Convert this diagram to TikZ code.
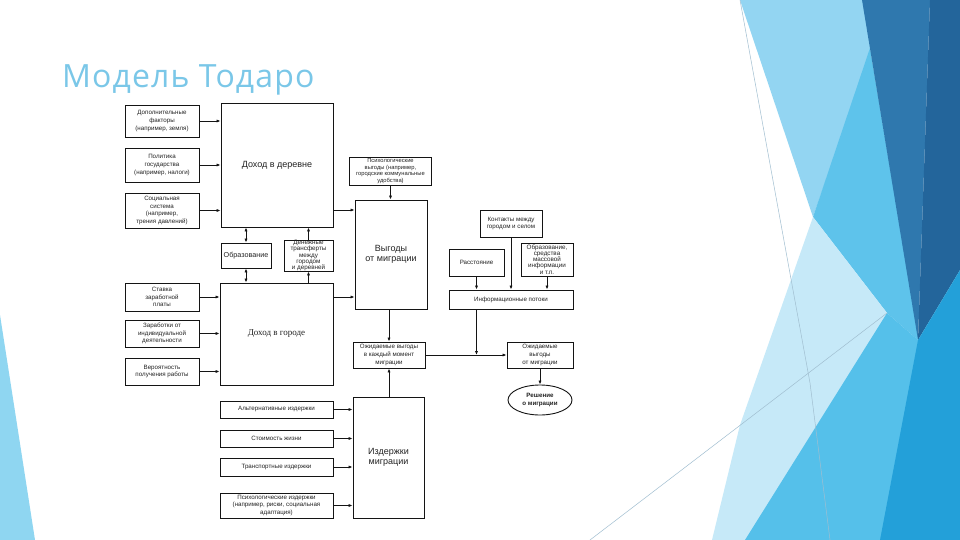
\documentclass[tikz,border=0pt]{standalone}
\usepackage{fontspec}
\setmainfont{Liberation Sans}
\newfontfamily\titlefont[LetterSpace=3.5]{Open Sans}
\newfontfamily\scanserif{Liberation Serif}
\usepackage{tikz}
\usetikzlibrary{
  arrows.meta,
  positioning,
  shapes.geometric
}
\definecolor{titlecolor}{RGB}{122, 199, 232}
\definecolor{ink}{RGB}{20, 20, 20}
\definecolor{inktext}{RGB}{35, 35, 35}
\definecolor{thinline}{RGB}{160, 190, 208}
\definecolor{lightsky}{RGB}{147, 213, 242}
\definecolor{midsky}{RGB}{94, 195, 235}
\definecolor{navy}{RGB}{47, 120, 174}
\definecolor{navydark}{RGB}{35, 101, 155}
\definecolor{palesky}{RGB}{198, 233, 248}
\definecolor{cyanblue}{RGB}{85, 192, 234}
\definecolor{deepcyan}{RGB}{35, 160, 217}
\definecolor{leftstrip}{RGB}{143, 214, 241}
\tikzset{
boxtext/.style={
  align=center,
  text=inktext,
  inner sep=0pt,
  font=\fontsize{6.2}{7.6}\selectfont
},
factorbox/.style={
  draw=ink,
  line width=0.9pt,
  boxtext
},
densebox/.style={
  factorbox,
  font=\fontsize{6.3}{6.1}\selectfont
},
bigbox/.style={
  draw=ink,
  line width=0.9pt,
  align=center,
  text=inktext,
  inner sep=0pt,
  font=\fontsize{9}{10.5}\selectfont
},
decisionnode/.style={
  ellipse,
  factorbox,
  font=\bfseries\fontsize{6.2}{7.2}\selectfont
},
titlelabel/.style={
  font=\titlefont\fontsize{32}{36}\selectfont,
  text=titlecolor,
  inner sep=0pt
},
arrow/.style={
  -{Latex[length=4pt,width=3.2pt]},
  line width=0.8pt,
  draw=ink
},
twoarrow/.style={
  arrow,
  {Latex[length=4pt,width=3.2pt]}-{Latex[length=4pt,width=3.2pt]}
}
}

\begin{document}
\begin{tikzpicture}[x=1pt,y=-1pt]
\useasboundingbox (0,0) rectangle (960,540);
\fill[white] (0,0) rectangle (960,540);

% slide background
\fill[leftstrip] (0,315) -- (35,540) -- (0,540) -- cycle;
\fill[lightsky] (740,0) -- (863,0) -- (871,50) -- (813,217) -- cycle;
\fill[midsky] (870,48) -- (919,341) -- (887,313) -- (813,217) -- cycle;
\fill[navy] (862,0) -- (930,0) -- (918,340) -- cycle;
\fill[navydark] (930,0) -- (960,0) -- (960,270) -- (918,340) -- cycle;
\fill[palesky] (813,217) -- (887,313) -- (850,540) -- (712,540) -- (740,425) -- cycle;
\fill[cyanblue] (745,540) -- (887,313) -- (918,340) -- (905,540) -- cycle;
\fill[deepcyan] (918,340) -- (960,270) -- (960,540) -- (880,540) -- cycle;
\draw[thinline, line width=0.5pt] (740,0) -- (810,383) -- (830,540);
\draw[thinline, line width=0.5pt] (590,540) -- (887,313);

\node[titlelabel, anchor=base west] (title) at (62,88) {Модель Тодаро};

% factors of income
\node[factorbox, minimum width=74pt, minimum height=32pt] (extra) at (162,121)
  {Дополнительные\\факторы\\(например, земля)};
\node[factorbox, minimum width=74pt, minimum height=34pt] (policy) at (162,165)
  {Политика\\государства\\(например, налоги)};
\node[factorbox, minimum width=74pt, minimum height=35pt] (social) at (162,210.5)
  {Социальная\\система\\(например,\\трения давлений)};
\node[factorbox, minimum width=74pt, minimum height=28pt] (wage) at (162,297)
  {Ставка\\заработной\\платы};
\node[factorbox, minimum width=74pt, minimum height=27pt] (selfwork) at (162,333.5)
  {Заработки от\\индивидуальной\\деятельности};
\node[factorbox, minimum width=74pt, minimum height=27pt] (jobprob) at (162,371.5)
  {Вероятность\\получения работы};

% incomes
\node[bigbox, minimum width=112pt, minimum height=124pt] (village) at (277,165) {Доход в деревне};
\node[bigbox, minimum width=113pt, minimum height=102pt, font=\scanserif\fontsize{9}{10.5}\selectfont] (city) at (276.5,334) {Доход в городе};
\node[factorbox, minimum width=50pt, minimum height=25pt, font=\fontsize{7.2}{8}\selectfont] (educ) at (246,255.5) {Образование};
\node[densebox, minimum width=49pt, minimum height=31pt] (remit) at (308.5,255.5)
  {Денежные\\трансферты\\между\\городом\\и деревней};

% gains
\node[factorbox, minimum width=82pt, minimum height=28pt, font=\fontsize{5.8}{6.6}\selectfont] (psygain) at (390.5,171)
  {Психологические\\выгоды (например,\\городские коммунальные\\удобства)};
\node[bigbox, minimum width=72pt, minimum height=109pt] (gain) at (391,254.5) {Выгоды\\от миграции};
\node[factorbox, minimum width=72pt, minimum height=26pt] (gainnow) at (389,355)
  {Ожидаемые выгоды\\в каждый момент\\миграции};

% costs
\node[bigbox, minimum width=71pt, minimum height=121pt] (cost) at (388.5,457.5) {Издержки\\миграции};
\node[factorbox, minimum width=113pt, minimum height=17pt] (altcost) at (276.5,409.5) {Альтернативные издержки};
\node[factorbox, minimum width=113pt, minimum height=17pt] (living) at (276.5,438.5) {Стоимость жизни};
\node[factorbox, minimum width=113pt, minimum height=18pt] (transport) at (276.5,467) {Транспортные издержки};
\node[factorbox, minimum width=113pt, minimum height=25pt] (psycost) at (276.5,505.5)
  {Психологические издержки\\(например, риски, социальная\\адаптация)};

% information
\node[factorbox, minimum width=62pt, minimum height=27pt] (contacts) at (511,223.5)
  {Контакты между\\городом и селом};
\node[factorbox, minimum width=55pt, minimum height=27pt] (distance) at (476.5,262.5) {Расстояние};
\node[densebox, minimum width=52pt, minimum height=33pt] (media) at (547,259.5)
  {Образование,\\средства\\массовой\\информации\\и т.п.};
\node[factorbox, minimum width=124pt, minimum height=19pt] (infoflow) at (511,299.5) {Информационные потоки};
\node[factorbox, minimum width=66pt, minimum height=26pt] (expgain) at (540,355)
  {Ожидаемые\\выгоды\\от миграции};
\node[decisionnode, minimum width=64pt, minimum height=30pt] (decision) at (540,400)
  {Решение\\о миграции};

% arrows
\foreach \src in {extra,policy,social}
  \draw[arrow] (\src.east) -- (\src.east -| village.west);
\foreach \src in {wage,selfwork,jobprob}
  \draw[arrow] (\src.east) -- (\src.east -| city.west);
\foreach \src in {altcost,living,transport,psycost}
  \draw[arrow] (\src.east) -- (\src.east -| cost.west);

\draw[twoarrow] (village.south -| educ) -- (educ.north);
\draw[twoarrow] (educ.south) -- (educ.south |- city.north);
\draw[arrow] (remit.north) -- (remit.north |- village.south);
\draw[arrow] (remit.south |- city.north) -- (remit.south);

\coordinate (villageout) at ([yshift=-45pt]village.east);
\coordinate (cityout) at ([yshift=37pt]city.east);
\draw[arrow] (villageout) -- (villageout -| gain.west);
\draw[arrow] (cityout) -- (cityout -| gain.west);
\draw[arrow] (psygain.south) -- (psygain.south |- gain.north);
\draw[arrow] (gain.south -| gainnow) -- (gainnow.north);
\draw[arrow] (cost.north -| gainnow) -- (gainnow.south);

\draw[arrow] (contacts.south) -- (contacts.south |- infoflow.north);
\draw[arrow] (distance.south) -- (distance.south |- infoflow.north);
\draw[arrow] (media.south) -- (media.south |- infoflow.north);
\coordinate (junction) at (distance |- gainnow);
\draw[arrow] (infoflow.south -| junction) -- (junction);
\draw[arrow] (gainnow.east) -- (expgain.west);
\draw[arrow] (expgain.south) -- (decision.north);
\end{tikzpicture}
\end{document}
